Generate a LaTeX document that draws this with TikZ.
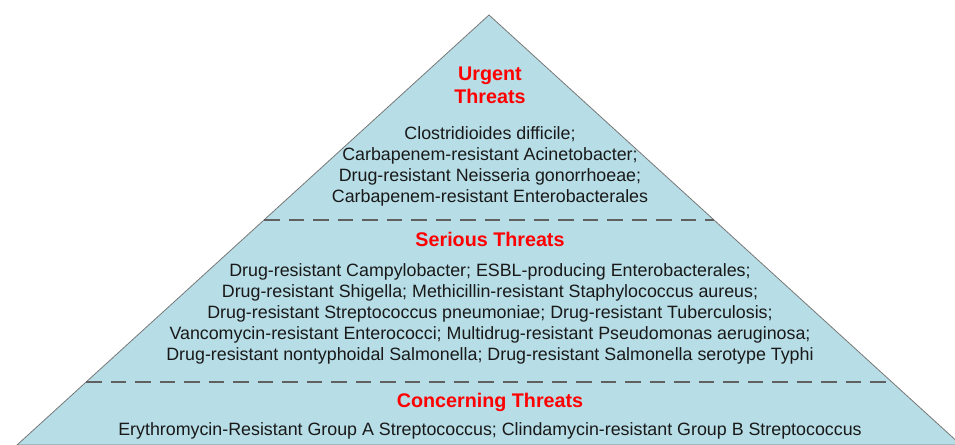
\documentclass[tikz,border=0pt]{standalone}
\usepackage{fontspec}
\setmainfont{Liberation Sans}
\usetikzlibrary{calc}
\definecolor{pyrfill}{RGB}{183,221,230}
\definecolor{pyredge}{RGB}{120,120,120}
\definecolor{threatred}{RGB}{255,0,0}
\definecolor{listtext}{RGB}{25,25,25}
\tikzset{
  tiertitle/.style={text=threatred, font=\fontsize{19.8}{23}\selectfont\bfseries, align=center, inner sep=0pt},
  tierlist/.style={text=listtext, font=\fontsize{17.9}{21.2}\selectfont, align=center, inner sep=0pt},
  tiersep/.style={draw=pyredge!80!black, line width=1.6bp, dash pattern=on 15.5bp off 9bp}
}
\begin{document}
\begin{tikzpicture}[x=1bp,y=-1bp]
\useasboundingbox (0,0) rectangle (955,445);
\clip (0,0) rectangle (955,445);
% pyramid
\draw[pyredge, fill=pyrfill, line width=0.8bp] (489,15)--(17,445)--(961,445)--cycle;
% tier separators
\draw[tiersep] (264,220)--(714,220);
\draw[tiersep] (86,382)--(893,382);
% urgent
\node[tiertitle] (urgentTitle) at (490,85.5) {Urgent\\Threats};
\node[tierlist] (urgentList) at (490,166.5) {Clostridioides difficile;\\Carbapenem-resistant Acinetobacter;\\Drug-resistant Neisseria gonorrhoeae;\\Carbapenem-resistant Enterobacterales};
% serious
\node[tiertitle] (seriousTitle) at (490,239) {Serious Threats};
\node[tierlist] (seriousList) at (490,314) {Drug-resistant Campylobacter; ESBL-producing Enterobacterales;\\Drug-resistant Shigella; Methicillin-resistant Staphylococcus aureus;\\Drug-resistant Streptococcus pneumoniae; Drug-resistant Tuberculosis;\\Vancomycin-resistant Enterococci; Multidrug-resistant Pseudomonas aeruginosa;\\Drug-resistant nontyphoidal Salmonella; Drug-resistant Salmonella serotype Typhi};
% concerning
\node[tiertitle] (concernTitle) at (490,402) {Concerning Threats};
\node[tierlist] (concernList) at (490,431) {Erythromycin-Resistant Group A Streptococcus; Clindamycin-resistant Group B Streptococcus};
\end{tikzpicture}
\end{document}
